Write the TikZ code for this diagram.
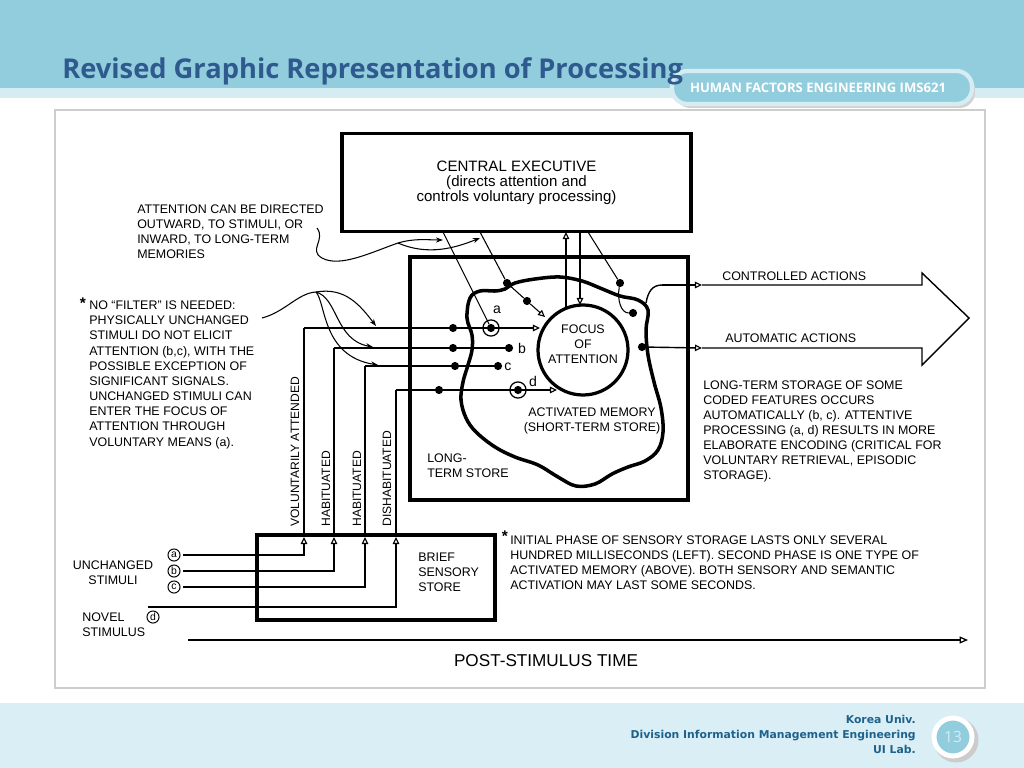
\documentclass[tikz,border=0pt]{standalone}
\usepackage{fontspec}
\setmainfont{Liberation Sans}
\newfontfamily\titlefont{Open Sans}
\newfontfamily\footfont{DejaVu Sans}
\usetikzlibrary{arrows.meta,shapes.geometric}

\definecolor{band}{RGB}{146,205,222}
\definecolor{bandlight}{RGB}{214,236,243}
\definecolor{titleblue}{RGB}{46,90,142}
\definecolor{footband}{RGB}{218,238,245}
\definecolor{foottext}{RGB}{28,98,140}
\definecolor{framegray}{RGB}{205,205,205}

\begin{document}
\begin{tikzpicture}[x=0.025cm,y=-0.025cm,
  dfont/.style={font=\fontsize{8.85}{10.67}\selectfont, inner sep=0pt},
  sbox/.style={draw=black, line width=2.6pt, inner sep=0pt},
  thinl/.style={line width=0.75pt},
  medl/.style={line width=1pt},
  vert/.style={line width=1.4pt},
  otip/.style={-{Triangle[open,length=5pt,width=4.6pt,line width=0.8pt]}},
  stip/.style={-{Stealth[length=5pt,width=3.6pt]}},
  dot/.style={circle, fill=black, inner sep=0pt, minimum size=5.8pt},
  ring/.style={circle, draw=black, line width=0.9pt, inner sep=0pt, minimum size=11.5pt},
  lbl/.style={font=\fontsize{10}{12}\selectfont, inner sep=0pt},
  circ/.style={circle, draw=black, line width=0.7pt, inner sep=0pt, minimum size=8.6pt,
               font=\fontsize{7.4}{8}\selectfont},
  vlabel/.style={dfont, font=\fontsize{8.6}{10}\selectfont, rotate=90, anchor=west},
]

\useasboundingbox (0,0) rectangle (1024,768);
% ---------- slide background ----------
\fill[white] (0,0) rectangle (1024,768);
\fill[band] (0,0) rectangle (1024,88);
\fill[bandlight] (0,88) rectangle (1024,98);
\fill[footband] (0,703) rectangle (1024,768);
\draw[framegray, line width=1.4pt, fill=white] (55,110) rectangle (985,688);

\fill[gray!35] (675,74) [rounded corners=11pt] rectangle (975,108);
\draw[bandlight, line width=3pt, fill=band, rounded corners=11pt] (672,71) rectangle (972,104);
\node[text=white, inner sep=0pt, font=\titlefont\bfseries\fontsize{9.3}{10}\selectfont] (tab) at (818,88)
      {HUMAN FACTORS ENGINEERING IMS621};

\node[anchor=base west, inner sep=0pt, text=titleblue,
      font=\titlefont\bfseries\fontsize{19.4}{21}\selectfont] (title) at (62,79)
      {Revised Graphic Representation of Processing};

\node[anchor=base east, inner sep=0pt, text=foottext, font=\footfont\bfseries\fontsize{7.7}{8}\selectfont] (f1) at (916,723) {Korea Univ.};
\node[anchor=base east, inner sep=0pt, text=foottext, font=\footfont\bfseries\fontsize{7.7}{8}\selectfont] (f2) at (916,738) {Division Information Management Engineering};
\node[anchor=base east, inner sep=0pt, text=foottext, font=\footfont\bfseries\fontsize{7.7}{8}\selectfont] (f3) at (916,753) {UI Lab.};
\fill[gray!40] (956,740) circle[radius=16pt];
\node[circle, draw=white, line width=3.5pt, fill=band, minimum size=27pt, inner sep=0pt,
      font=\titlefont\fontsize{11}{12}\selectfont, text=bandlight] (pg) at (953,737) {13};

% ---------- boxes ----------
\node[sbox, minimum width=248.3pt, minimum height=69.7pt, align=center,
      font=\fontsize{10.7}{10.67}\selectfont] (ce) at (516.5,182.5)
      {CENTRAL EXECUTIVE\\(directs attention and\\controls voluntary processing)};
\node[sbox, minimum width=197.8pt, minimum height=172.9pt] (lts) at (549,378.5) {};
\node[sbox, minimum width=169.3pt, minimum height=60.5pt] (bss) at (376,577.5) {};

% ---------- activated memory blob ----------
\draw[line width=2.5pt] plot[smooth cycle, tension=0.6] coordinates {
  (470,298) (480,291) (495,291) (505,289) (515,283) (535,279) (560,277) (582,281)
  (600,288) (620,296) (638,300) (648,310) (646,330) (648,355) (654,382) (661,408)
  (663,432) (658,450) (645,461) (628,467) (612,474) (595,484) (576,486) (558,477)
  (538,465) (515,457) (495,447) (476,432) (466,418) (461,400) (463,382) (468,365)
  (472,350) (472,335) (467,318)};

\node[circle, draw=black, line width=2.3pt, minimum size=64pt, inner sep=0pt] (focus) at (583,350) {};
\node[dfont, align=center] (focustext) at (583,344) {FOCUS\\OF\\ATTENTION};

% ---------- dots ----------
\node[dot] (pa1) at (453,328) {};
\node[dot] (pa2) at (491,328) {};
\node[ring] (ra) at (491,328) {};
\node[dot] (pb1) at (453,348) {};
\node[dot] (pb2) at (509,348) {};
\node[dot] (pc1) at (455,366) {};
\node[dot] (pc2) at (498,366) {};
\node[dot] (pd1) at (439,390) {};
\node[dot] (pd2) at (518,390) {};
\node[ring] (rd) at (518,390) {};
\node[dot] (q1) at (507,283) {};
\node[dot] (q2) at (527,301) {};
\node[dot] (q3) at (620,283) {};
\node[dot] (q4) at (633,313) {};
\node[dot] (q5) at (642,347) {};

\node[lbl] (la) at (497,310) {a};
\node[lbl] (lb) at (522,348) {b};
\node[lbl] (lc) at (508,367) {c};
\node[lbl] (ld) at (533,381) {d};

% ---------- stimulus paths ----------
\coordinate (sa) at (183,555);
\coordinate (sb) at (183,571);
\coordinate (sc) at (183,587);
\coordinate (sd) at (148,607);
\coordinate (ka) at (304,537);
\coordinate (kb) at (334,537);
\coordinate (kc) at (365,537);
\coordinate (kd) at (396,537);

\draw[medl, otip] (sa) -| (ka);
\draw[medl, otip] (sb) -| (kb);
\draw[medl, otip] (sc) -| (kc);
\draw[medl, otip] (sd) -| (kd);

\coordinate (ta) at (540,328);
\coordinate (td) at (557,390);
\draw[vert] (ka) -- (304,328);
\draw[medl] (304,328) -- (pa1) -- (pa2);
\draw[medl, otip] (pa2) -- (ta);
\draw[vert] (kb) -- (334,348);
\draw[medl] (334,348) -- (pb1) -- (pb2);
\draw[line width=2pt] (kc) -- (365,366);
\draw[medl] (365,366) -- (pc1) -- (pc2);
\draw[vert] (kd) -- (396,390);
\draw[medl] (396,390) -- (pd1) -- (pd2);
\draw[medl, otip] (pd2) -- (td);

% ---------- central executive links ----------
\coordinate (ce1) at (443,232);
\coordinate (ce2) at (480,232);
\coordinate (ce3) at (566,232);
\coordinate (ce4) at (580,232);
\coordinate (ce5) at (588,232);
\coordinate (fx) at (545,317);
\coordinate (fu) at (566,308);
\coordinate (fd) at (580,305);
\draw[thinl] (ce1) -- (pa2);
\draw[thinl] (ce2) -- (q1) -- (q2);
\draw[thinl, otip] (q2) -- (fx);
\draw[medl, otip] (fu) -- (ce3);
\draw[medl, otip] (ce4) -- (fd);
\draw[thinl] (ce5) -- (q3);
\draw[thinl] (q3) .. controls (617,300) and (621,313) .. (q4);

% ---------- action outputs ----------
\coordinate (c0) at (646,303);
\coordinate (c1) at (662,285);
\coordinate (c2) at (702,285);
\coordinate (c3) at (922,285);
\coordinate (a2) at (702,348);
\coordinate (a3) at (922,348);
\coordinate (h1) at (922,273);
\coordinate (h2) at (969,318);
\coordinate (h3) at (922,365);
\draw[medl] (c0) .. controls (648,292) and (652,285) .. (c1);
\draw[medl, otip] (c1) -- (c2);
\draw[medl] (c2) -- (c3) -- (h1) -- (h2) -- (h3) -- (a3) -- (a2);
\draw[medl, otip] (q5) -- (a2);

% ---------- annotation curves ----------
\coordinate (nf0) at (262,318);
\coordinate (nfp) at (316,292);
\coordinate (nt1) at (376,326);
\coordinate (nt2) at (373,347);
\coordinate (nt3) at (378,365);
\draw[thinl] (nf0) .. controls (285,312) and (298,293) .. (nfp);
\draw[thinl, stip] (nfp) .. controls (345,287) and (360,305) .. (nt1);
\draw[thinl, stip] (nfp) .. controls (338,298) and (335,340) .. (nt2);
\draw[thinl, stip] (nfp) .. controls (326,303) and (322,356) .. (nt3);

\coordinate (at0) at (317,228);
\coordinate (atm) at (322,258);
\coordinate (atj) at (398,243);
\coordinate (at1) at (443,240);
\coordinate (at2) at (480,238);
\draw[thinl] (at0) .. controls (326,240) and (308,250) .. (atm) .. controls (340,268) and (372,252) .. (atj);
\draw[thinl, stip] (atj) .. controls (415,238) and (428,240) .. (at1);
\draw[thinl, stip] (atj) .. controls (428,256) and (455,248) .. (at2);

% ---------- time axis ----------
\coordinate (t0) at (188,640);
\coordinate (t1) at (968,640);
\draw[vert, -{Triangle[open,length=6pt,width=5pt,line width=0.9pt]}] (t0) -- (t1);
\node[inner sep=0pt, font=\fontsize{12.2}{14}\selectfont] (ptime) at (546,661) {POST-STIMULUS TIME};

% ---------- texts ----------
\node[dfont, align=left, anchor=north west] (txtatt) at (137,204.5)
  {ATTENTION CAN BE DIRECTED\\OUTWARD, TO STIMULI, OR\\INWARD, TO LONG-TERM\\MEMORIES};
\node[inner sep=0pt, font=\bfseries\fontsize{11}{12}\selectfont] (ast1) at (83,303) {*};
\node[dfont, align=left, anchor=north west, font=\fontsize{8.85}{10.8}\selectfont] (txtnf) at (89,300.5)
  {NO ``FILTER'' IS NEEDED:\\PHYSICALLY UNCHANGED\\STIMULI DO NOT ELICIT\\ATTENTION (b,c), WITH THE\\POSSIBLE EXCEPTION OF\\SIGNIFICANT SIGNALS.\\UNCHANGED STIMULI CAN\\ENTER THE FOCUS OF\\ATTENTION THROUGH\\VOLUNTARY MEANS (a).};
\node[dfont, align=left, anchor=north west] (txtlts) at (703,380.5)
  {LONG-TERM STORAGE OF SOME\\CODED FEATURES OCCURS\\AUTOMATICALLY (b, c). ATTENTIVE\\PROCESSING (a, d) RESULTS IN MORE\\ELABORATE ENCODING (CRITICAL FOR\\VOLUNTARY RETRIEVAL, EPISODIC\\STORAGE).};
\node[inner sep=0pt, font=\bfseries\fontsize{11}{12}\selectfont] (ast2) at (505,536) {*};
\node[dfont, align=left, anchor=north west] (txtini) at (510,535.5)
  {INITIAL PHASE OF SENSORY STORAGE LASTS ONLY SEVERAL\\HUNDRED MILLISECONDS (LEFT). SECOND PHASE IS ONE TYPE OF\\ACTIVATED MEMORY (ABOVE). BOTH SENSORY AND SEMANTIC\\ACTIVATION MAY LAST SOME SECONDS.};

\node[dfont, anchor=west] (ctl) at (722,276) {CONTROLLED ACTIONS};
\node[dfont, anchor=west] (aut) at (725,338) {AUTOMATIC ACTIONS};
\node[dfont, align=center] (am) at (592,421) {ACTIVATED MEMORY\\(SHORT-TERM STORE)};
\node[dfont, align=left, anchor=north west] (ltst) at (427,453.5) {LONG-\\TERM STORE};
\node[dfont, align=left, anchor=north west] (bsst) at (418,552.5) {BRIEF\\SENSORY\\STORE};
\node[dfont, align=center] (unch) at (113,573) {UNCHANGED\\STIMULI};
\node[dfont, align=left, anchor=north west] (novel) at (82,612.5) {NOVEL\\STIMULUS};

\node[vlabel] (v1) at (295,527) {VOLUNTARILY ATTENDED};
\node[vlabel] (v2) at (326,527) {HABITUATED};
\node[vlabel] (v3) at (357,527) {HABITUATED};
\node[vlabel] (v4) at (387,527) {DISHABITUATED};

\node[circ] (ca) at (174,555) {a};
\node[circ] (cb) at (174,571) {b};
\node[circ] (cc) at (174,587) {c};
\node[circ] (cd) at (153,617) {d};
\end{tikzpicture}
\end{document}
